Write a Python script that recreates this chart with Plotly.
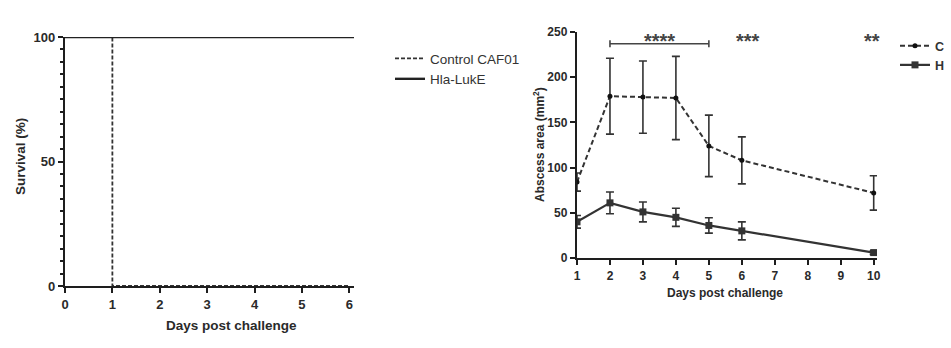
import plotly.graph_objects as go

# ---- Survival data (left panel) ----
surv_control_days = [0, 1, 1, 6]
surv_control_pct = [100, 100, 0, 0]
surv_hla_days = [0, 6.1]
surv_hla_pct = [100, 100]

# ---- Abscess area data (right panel) ----
days = [1, 2, 3, 4, 5, 6, 10]
control_area = [84, 179, 178, 177, 124, 108, 72]
control_err = [10, 42, 40, 46, 34, 26, 19]
hla_area = [40, 61, 51, 45, 36, 30, 6]
hla_err = [7, 12, 11, 10, 8.5, 10, 2]

# significance
bracket_x = [2, 5]
bracket_y = 237
stars_text = ["****", "***", "**"]
stars_x = [3.5, 6.2, 9.95]
stars_y = 247

INK = "#1e1e1e"
TXT = "#2a2a2a"
FONT = "Liberation Sans, Arial, sans-serif"

W, H = 951, 348
def px(x):
    return x / W
def py(y):
    return 1 - y / H

fig = go.Figure()

fig.add_trace(go.Scatter(x=surv_control_days, y=surv_control_pct, mode="lines",
                         line=dict(color="#333", width=1.8, dash="4px,2px"),
                         name="Control CAF01", xaxis="x", yaxis="y", legend="legend"))
fig.add_trace(go.Scatter(x=surv_hla_days, y=surv_hla_pct, mode="lines",
                         line=dict(color="#222", width=2.4),
                         name="Hla-LukE", xaxis="x", yaxis="y", legend="legend"))

fig.add_trace(go.Scatter(x=days, y=control_area, mode="lines+markers",
                         line=dict(color="#333", width=2, dash="5px,3px"),
                         marker=dict(symbol="circle", size=5, color="#111"),
                         error_y=dict(type="data", array=control_err, color="#333",
                                      thickness=1.6, width=4),
                         name="C", xaxis="x2", yaxis="y2", legend="legend2"))
fig.add_trace(go.Scatter(x=days, y=hla_area, mode="lines+markers",
                         line=dict(color="#333", width=2.2),
                         marker=dict(symbol="square", size=7, color="#333"),
                         error_y=dict(type="data", array=hla_err, color="#333",
                                      thickness=1.6, width=4),
                         name="H", xaxis="x2", yaxis="y2", legend="legend2"))

axis_common = dict(showgrid=False, zeroline=False, showline=True, linecolor=INK,
                   linewidth=2.4, ticks="outside", tickcolor=INK, tickwidth=1.8,
                   ticklen=5)

fig.update_layout(
    width=W, height=H, margin=dict(l=0, r=0, t=0, b=0, autoexpand=False),
    paper_bgcolor="white", plot_bgcolor="white",
    font=dict(family=FONT, color=TXT),
    xaxis=dict(domain=[px(65), px(354)], range=[0, 6.1], tickvals=[0, 1, 2, 3, 4, 5, 6],
               anchor="y", tickfont=dict(size=13, weight="bold", color=TXT), **axis_common),
    yaxis=dict(domain=[py(286), py(37)], range=[0, 100], tickvals=[0, 50, 100],
               anchor="x", tickfont=dict(size=13, weight="bold", color=TXT),
               minor=dict(dtick=5, ticks="outside", ticklen=3, tickcolor=INK, tickwidth=1.6),
               **axis_common),
    xaxis2=dict(domain=[px(577), px(877)], range=[1, 10.1], tickvals=list(range(1, 11)),
                anchor="y2", tickfont=dict(size=12, weight="bold", color=TXT), **axis_common),
    yaxis2=dict(domain=[py(258), py(32)], range=[0, 250], tickvals=[0, 50, 100, 150, 200, 250],
                anchor="x2", tickfont=dict(size=12, weight="bold", color=TXT), **axis_common),
    legend=dict(x=px(390), y=py(43), xanchor="left", yanchor="top",
                font=dict(size=13.5, color="#333"), bgcolor="rgba(0,0,0,0)",
                tracegroupgap=0, itemwidth=30),
    legend2=dict(x=px(895), y=py(31), xanchor="left", yanchor="top",
                 font=dict(size=12.5, color="#333", weight="bold"), bgcolor="rgba(0,0,0,0)",
                 itemwidth=30),
    showlegend=True,
)

# axis titles as annotations
def title(text, x, y, size, angle=0):
    fig.add_annotation(text=text, x=px(x), y=py(y), xref="paper", yref="paper",
                       xanchor="center", yanchor="middle", textangle=angle, showarrow=False,
                       font=dict(size=size, color=TXT, weight="bold"))

title("Survival (%)", 21, 157, 13.5, -90)
title("Days post challenge", 231, 325, 13.5)
title("Abscess area (mm<sup>2</sup>)", 539, 145, 12, -90)
title("Days post challenge", 725, 293, 12)

# significance bracket
fig.add_shape(type="line", xref="x2", yref="y2", x0=bracket_x[0], x1=bracket_x[1],
              y0=bracket_y, y1=bracket_y, line=dict(color="#444", width=1.6))
for bx in bracket_x:
    fig.add_shape(type="line", xref="x2", yref="y2", x0=bx, x1=bx,
                  y0=bracket_y - 4, y1=bracket_y + 4, line=dict(color="#444", width=1.6))
for t, sx in zip(stars_text, stars_x):
    fig.add_annotation(text=t, x=sx, y=stars_y, xref="x2", yref="y2", showarrow=False,
                       xanchor="center", yanchor="middle", yshift=-6,
                       font=dict(size=20, color="#444", weight="bold"))

fig.write_html("out.html")
